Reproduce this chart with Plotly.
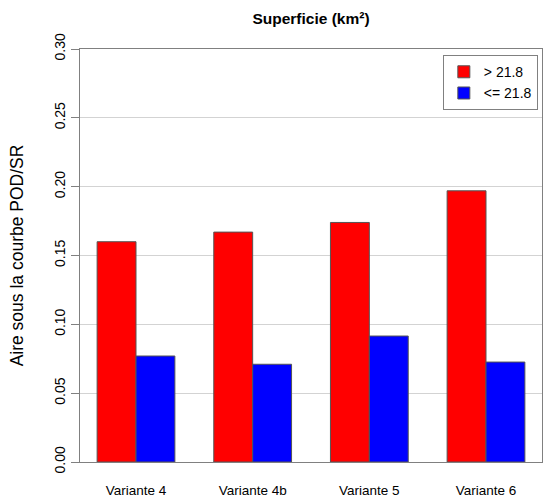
import plotly.graph_objects as go

categories = ["Variante 4", "Variante 4b", "Variante 5", "Variante 6"]
values_high = [0.160, 0.167, 0.174, 0.197]
values_low = [0.077, 0.071, 0.0915, 0.0726]
series_names = ["> 21.8", "<= 21.8"]
y_ticks = [0.00, 0.05, 0.10, 0.15, 0.20, 0.25, 0.30]
y_ticklabels = ["0.00", "0.05", "0.10", "0.15", "0.20", "0.25", "0.30"]

FONT = "Liberation Sans, Arial, sans-serif"

fig = go.Figure()
fig.add_trace(go.Bar(x=categories, y=values_high, name=series_names[0],
                     marker=dict(color="#FF0000", line=dict(color="#555555", width=1))))
fig.add_trace(go.Bar(x=categories, y=values_low, name=series_names[1],
                     marker=dict(color="#0000FF", line=dict(color="#555555", width=1))))

fig.update_layout(
    width=544, height=499,
    barmode="group", bargap=1/3, bargroupgap=0,
    plot_bgcolor="white", paper_bgcolor="white",
    margin=dict(l=80, r=2, t=49, b=37),
    font=dict(family=FONT, color="black", size=13),
    title=dict(text="<b>Superficie (km²)</b>", x=311 / 544, xanchor="center",
               y=1 - 19 / 499, yanchor="middle", font=dict(size=15.5)),
    legend=dict(x=0.991, y=0.985, xanchor="right", yanchor="top",
                bordercolor="#808080", borderwidth=1, bgcolor="white",
                font=dict(size=14), itemwidth=30, tracegroupgap=0),
    showlegend=True,
)
fig.update_xaxes(range=[-0.48, 3.48], showline=True, linecolor="#808080", linewidth=1,
                 mirror=True, ticks="", showgrid=False, ticklabelstandoff=16,
                 tickfont=dict(size=13.5))
fig.update_yaxes(range=[0, 0.30], tickvals=y_ticks, ticktext=y_ticklabels,
                 tickangle=-90, ticks="outside", ticklen=8, tickcolor="#808080",
                 showline=True, linecolor="#808080", linewidth=1, mirror=True,
                 showgrid=True, gridcolor="#d3d3d3", gridwidth=1, zeroline=False,
                 tickfont=dict(size=14),
                 title=dict(text="Aire sous la courbe POD/SR", font=dict(size=17.5), standoff=24))

fig.write_html("out.html", config={"displayModeBar": False},
               post_script="document.body.style.margin='0';document.body.style.overflow='hidden';")
